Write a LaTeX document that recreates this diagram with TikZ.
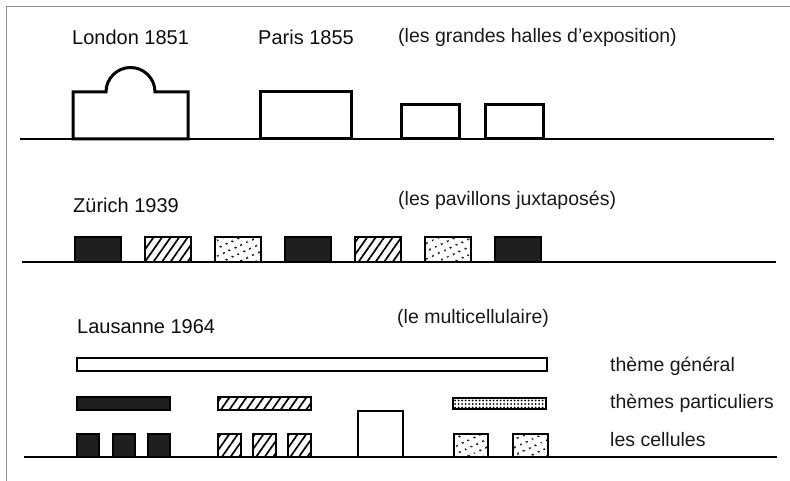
\documentclass[tikz,border=0pt]{standalone}
\usepackage{fontspec}
\setmainfont{Liberation Sans}
\usetikzlibrary{patterns.meta}

\begin{document}
\begin{tikzpicture}[x=1pt,y=1pt,
	ground/.style={line width=1.8pt},
	hall/.style={line width=3pt,line join=miter},
	blackbox/.style={draw,line width=1.5pt,fill=black!88},
	hatchbox/.style={draw,line width=2pt,pattern={Lines[angle=55,distance=7pt,line width=1.7pt]}},
	dotbox/.style={draw,line width=2pt,pattern={Dots[distance=6.5pt,radius=1.2pt,angle=25]}},
	densedots/.style={draw,line width=2.5pt,pattern={Dots[distance=3.5pt,radius=1pt]}},
	whitebox/.style={draw,line width=2pt,fill=white},
	yeartext/.style={anchor=west,inner sep=0pt,text=black!95,font=\fontsize{20}{22}\selectfont},
	notetext/.style={anchor=west,inner sep=0pt,text=black!90,font=\fontsize{19.5}{22}\selectfont}]
	\useasboundingbox (0,0) rectangle (790,-481);
	% frame of the scan
	\draw[black!45,line width=1pt] (6,-481) -- (6,-7) -- (790,-7);

	% row 1: the great halls
	\node[yeartext] (london) at (72,-37) {London 1851};
	\node[yeartext] (paris) at (258,-37) {Paris 1855};
	\node[notetext] (halles) at (398,-37) {(les grandes halles d'exposition)};
	\draw[ground] (20,-139) -- (774,-139);
	\draw[hall] (73,-139) -- (73,-92) -- (106,-92) arc (180:0:24.5) -- (188,-92) -- (188,-139) -- cycle;
	\draw[hall] (260,-139) rectangle (351,-92);
	\draw[hall] (401,-139) rectangle (459,-105);
	\draw[hall] (485,-139) rectangle (543,-105);

	% row 2: the juxtaposed pavilions
	\node[yeartext] (zurich) at (73,-205) {Zürich 1939};
	\node[notetext] (pavillons) at (398,-200) {(les pavillons juxtaposés)};
	\draw[ground] (22,-262) -- (776,-262);
	\foreach \i/\kind in {0/blackbox,1/hatchbox,2/dotbox,3/blackbox,4/hatchbox,5/dotbox,6/blackbox}
		\draw[\kind] (75+70*\i,-262) rectangle ++(46,25);

	% row 3: the multicellular
	\node[yeartext] (lausanne) at (77,-327) {Lausanne 1964};
	\node[notetext] (multi) at (397,-318) {(le multicellulaire)};
	\node[notetext] (general) at (610,-366) {thème général};
	\node[notetext] (particuliers) at (610,-403) {thèmes particuliers};
	\node[notetext] (cellules) at (610,-440) {les cellules};
	\draw[ground] (24,-457) -- (777,-457);
	\draw[whitebox] (77,-358) rectangle (547,-371);
	\draw[blackbox] (77,-397) rectangle (170,-410);
	\draw[hatchbox] (218,-397) rectangle (311,-410);
	\draw[densedots] (453,-398) rectangle (546,-409);
	\foreach \x in {77,113,148}
		\draw[blackbox] (\x,-457) rectangle ++(22,23);
	\foreach \x in {218,253,288}
		\draw[hatchbox] (\x,-457) rectangle ++(23,23);
	\draw[dotbox] (454,-457) rectangle ++(34,23);
	\draw[dotbox] (513,-457) rectangle ++(35,23);
	\draw[whitebox] (358,-457) rectangle (403,-411);
\end{tikzpicture}
\end{document}
